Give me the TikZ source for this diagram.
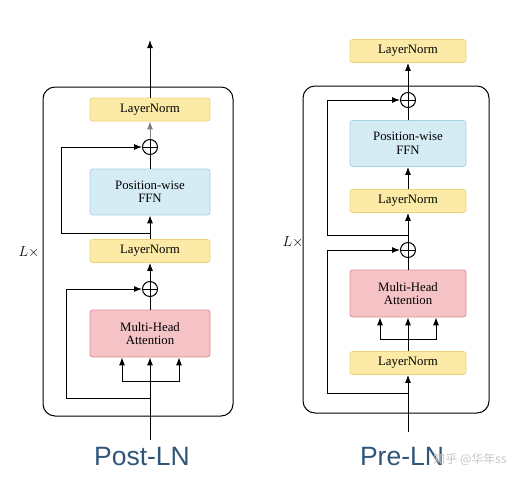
\documentclass[tikz,border=0pt]{standalone}
\usepackage{fontspec}
\setmainfont{Liberation Serif}
\newfontfamily\capfont{Liberation Sans}
\newfontfamily\cjkfont{Noto Sans CJK SC}
\usetikzlibrary{arrows.meta}
\definecolor{lnfill}{HTML}{FCEBA6}
\definecolor{lndraw}{HTML}{EFD27E}
\definecolor{ffnfill}{HTML}{D5ECF4}
\definecolor{ffndraw}{HTML}{A9D3E3}
\definecolor{mhafill}{HTML}{F5C2C6}
\definecolor{mhadraw}{HTML}{DE8F95}
\definecolor{captext}{HTML}{2F5678}
\begin{document}
\begin{tikzpicture}[x=1pt,y=-1pt,
  blk/.style={draw,rounded corners=2.5pt,align=center,font=\fontsize{12.8}{13.5}\selectfont,inner sep=0pt,line width=0.7pt},
  lnbox/.style={blk,fill=lnfill,draw=lndraw,minimum height=23pt},
  ffnbox/.style={blk,fill=ffnfill,draw=ffndraw,minimum height=46pt},
  mhabox/.style={blk,fill=mhafill,draw=mhadraw,minimum height=47pt},
  addop/.style={circle,draw,minimum size=15pt,inner sep=0pt,line width=1pt,
    path picture={\draw[line width=1pt] (path picture bounding box.north) -- (path picture bounding box.south)
      (path picture bounding box.west) -- (path picture bounding box.east);}},
  arr/.style={-{Latex[length=8pt,width=6pt]},line width=1pt},
  ln/.style={line width=1pt},
  layerbox/.style={line width=1pt,rounded corners=12pt},
  lcount/.style={font=\fontsize{15}{16}\selectfont},
  caption/.style={font=\capfont\fontsize{26.5}{28}\selectfont,text=captext},
]
\useasboundingbox (0,0) rectangle (520,483);
% Post-LN
\draw[layerbox] (43,87) rectangle (233,416);
\node[lnbox,minimum width=120pt] (postlnb) at (150,109.5) {LayerNorm};
\node[addop] (postaddb) at (150,147) {};
\node[ffnbox,minimum width=120pt] (postffn) at (150,192) {Position-wise\\FFN};
\node[lnbox,minimum width=120pt] (postlna) at (150,251) {LayerNorm};
\node[addop] (postadda) at (150,289) {};
\node[mhabox,minimum width=120pt] (postmha) at (150,333.5) {Multi-Head\\Attention};
\coordinate (postin) at (150,440);
\coordinate (postout) at (150,40);
\coordinate (postresb) at (150,233);
\coordinate (postresa) at (150,398);
\coordinate (postsplit) at (150,381);
\draw[arr] (postlnb.north) -- (postout);
\draw[arr,gray] (postaddb.north) -- (postlnb.south);
\draw[ln] (postffn.north) -- (postaddb.south);
\draw[arr] (postlna.north) -- (postffn.south);
\draw[arr] (postadda.north) -- (postlna.south);
\draw[ln] (postmha.north) -- (postadda.south);
\draw[arr] (postresb) -- (61,233) |- (postaddb.west);
\draw[arr] (postresa) -- (66,398) |- (postadda.west);
\draw[arr] (postin) -- (postmha.south);
\draw[arr] (postsplit) -| ([xshift=-28pt]postmha.south);
\draw[arr] (postsplit) -| ([xshift=29pt]postmha.south);
\node[lcount] (postcount) at (29,252) {$L\times$};
\node[caption] (postcap) at (142,457) {Post-LN};
% Pre-LN
\draw[layerbox] (303,86) rectangle (489,413);
\node[lnbox,minimum width=116pt] (prelnc) at (408,51) {LayerNorm};
\node[addop] (preaddb) at (408,100) {};
\node[ffnbox,minimum width=116pt] (preffn) at (408,143.5) {Position-wise\\FFN};
\node[lnbox,minimum width=116pt] (prelnb) at (408,201) {LayerNorm};
\node[addop] (preadda) at (408,250) {};
\node[mhabox,minimum width=116pt] (premha) at (408,293.5) {Multi-Head\\Attention};
\node[lnbox,minimum width=116pt] (prelna) at (408,363) {LayerNorm};
\coordinate (prein) at (408,432);
\coordinate (preresb) at (408,235);
\coordinate (preresa) at (408,393);
\coordinate (presplit) at (408,339);
\draw[arr] (preaddb.north) -- (prelnc.south);
\draw[ln] (preffn.north) -- (preaddb.south);
\draw[arr] (prelnb.north) -- (preffn.south);
\draw[arr] (preadda.north) -- (prelnb.south);
\draw[ln] (premha.north) -- (preadda.south);
\draw[arr] (preresb) -- (327,235) |- (preaddb.west);
\draw[arr] (preresa) -- (327,393) |- (preadda.west);
\draw[arr] (prein) -- (prelna.south);
\draw[arr] (prelna.north) -- (premha.south);
\draw[arr] (presplit) -| ([xshift=-28pt]premha.south);
\draw[arr] (presplit) -| ([xshift=28pt]premha.south);
\node[lcount] (precount) at (293,242) {$L\times$};
\node[caption] (precap) at (402,457) {Pre-LN};
\node[font=\cjkfont\fontsize{12}{13}\selectfont,text=gray!45] (mark) at (470,459) {知乎 @华年ss};
\end{tikzpicture}
\end{document}
